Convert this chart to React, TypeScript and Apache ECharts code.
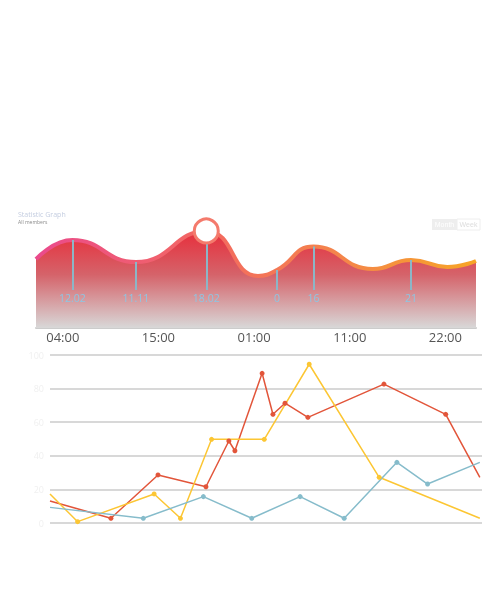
import React, { useEffect, useRef } from "react";
import * as echarts from "echarts";

// Upper area chart
const TIME_LABELS = ["04:00", "15:00", "01:00", "11:00", "22:00"];
const TIME_TICKS = [0, 10, 20, 30, 40];
const WAVE_X = [-2.8, 1, 7.65, 15, 20.4, 22.4, 26.2, 32.4, 36.4, 40.2, 43.2];
const WAVE_Y = [62.7, 80, 60, 88.2, 47.3, 52.7, 74.1, 53.6, 61.8, 55.5, 60.9];
const MARK_INDEX = [1, 2, 3, 5, 6, 8];
const MARK_LABELS = ["12.02", "11.11", "18.02", "0", "16", "21"];
const MARK_BOTTOM = 34.5;
const PEAK_INDEX = 3;

// Lower line chart
const RED_X = [0, 14.1, 25.0, 36.1, 41.4, 42.8, 49.1, 51.6, 54.4, 59.7, 77.3, 91.6, 99.5];
const RED_Y = [13.1, 2.8, 28.6, 21.6, 48.8, 43.0, 89.1, 64.7, 71.3, 62.9, 82.7, 64.7, 27.2];
const YELLOW_X = [0, 6.4, 24.1, 30.2, 37.4, 49.6, 60.0, 76.2, 99.5];
const YELLOW_Y = [17.3, 0.8, 17.3, 2.8, 49.8, 49.8, 94.5, 27.2, 2.8];
const BLUE_X = [0, 21.6, 35.5, 46.7, 57.9, 68.1, 80.3, 87.4, 99.5];
const BLUE_Y = [9.3, 2.8, 15.7, 2.8, 15.7, 2.8, 36.1, 23.2, 36.1];

function pts(xs: number[], ys: number[]) {
  return xs.map((x, i) => {
    const item: any = { value: [x, ys[i]] };
    if (i === 0 || i === xs.length - 1) item.symbol = "none";
    return item;
  });
}

export default function App() {
  const ref = useRef<HTMLDivElement>(null);
  useEffect(() => {
    if (!ref.current) return;
    const chart = echarts.init(ref.current, undefined, { renderer: "svg" });
    const lineSeries = (name: string, xs: number[], ys: number[], color: string) => ({
      name,
      type: "line",
      xAxisIndex: 1,
      yAxisIndex: 1,
      data: pts(xs, ys),
      symbol: "circle",
      symbolSize: 5,
      lineStyle: { color, width: 1.5 },
      itemStyle: { color },
      z: 3,
    });
    chart.setOption({
      animation: false,
      textStyle: { fontFamily: "Open Sans" },
      title: {
        text: "Statistic Graph",
        subtext: "All members",
        left: 13,
        top: 206,
        itemGap: 1,
        textStyle: { fontSize: 7, fontWeight: "normal", color: "#c4cde0" },
        subtextStyle: { fontSize: 5, color: "#8a8a8a" },
      },
      graphic: [
        { type: "rect", shape: { x: 432, y: 219, width: 25, height: 11 }, style: { fill: "#eeeeee" } },
        { type: "text", x: 444.5, y: 224.5, style: { text: "Month", fill: "#ffffff", fontSize: 7, align: "center", verticalAlign: "middle" } },
        { type: "rect", shape: { x: 457, y: 219, width: 23, height: 11 }, style: { fill: "#ffffff", stroke: "#eeeeee", lineWidth: 1 } },
        { type: "text", x: 468.5, y: 224.5, style: { text: "Week", fill: "#dddddd", fontSize: 7, align: "center", verticalAlign: "middle" } },
      ],
      grid: [
        { left: 36, right: 24, top: 218, height: 110 },
        { left: 50, right: 18, top: 355, height: 168 },
      ],
      xAxis: [
        {
          type: "value",
          gridIndex: 0,
          min: -2.8,
          max: 43.2,
          splitLine: { show: false },
          axisTick: { show: false },
          axisLine: { show: true, lineStyle: { color: "#cccccc", width: 2 } },
          axisLabel: {
            customValues: TIME_TICKS,
            formatter: (v: number) => TIME_LABELS[TIME_TICKS.indexOf(Math.round(v))] ?? "",
            color: "#555555",
            fontSize: 13,
            margin: 2,
          },
        },
        {
          type: "value",
          gridIndex: 1,
          min: 0,
          max: 100,
          show: false,
        },
      ],
      yAxis: [
        { type: "value", gridIndex: 0, min: 0, max: 100, show: false },
        {
          type: "value",
          gridIndex: 1,
          min: 0,
          max: 100,
          interval: 20,
          axisLine: { show: false },
          axisTick: { show: false },
          splitLine: { lineStyle: { color: "#cbcbcb", width: 1.5 } },
          axisLabel: { color: "#f0f0f0", fontSize: 9, margin: 6 },
        },
      ],
      series: [
        {
          type: "line",
          xAxisIndex: 0,
          yAxisIndex: 0,
          smooth: 0.5,
          showSymbol: false,
          symbol: "none",
          data: WAVE_X.map((x, i) => [x, WAVE_Y[i]]),
          lineStyle: {
            width: 4,
            color: new echarts.graphic.LinearGradient(0, 0, 1, 0, [
              { offset: 0, color: "#ea4a8c" },
              { offset: 0.4, color: "#f36a60" },
              { offset: 0.7, color: "#f4864a" },
              { offset: 1, color: "#f7a526" },
            ]),
          },
          areaStyle: {
            opacity: 1,
            color: new echarts.graphic.LinearGradient(0, 0, 0, 1, [
              { offset: 0, color: "#e72e3b" },
              { offset: 0.45, color: "#d5636a" },
              { offset: 1, color: "#d8d8d8" },
            ]),
          },
          markLine: {
            silent: true,
            symbol: "none",
            lineStyle: { color: "#8cb6c7", width: 2, type: "solid" },
            label: { position: "end", formatter: "{b}", color: "#8ec6e3", fontSize: 10.5, distance: 2 },
            data: MARK_INDEX.map((idx, k) => [
              { name: MARK_LABELS[k], coord: [WAVE_X[idx], WAVE_Y[idx]] },
              { coord: [WAVE_X[idx], MARK_BOTTOM] },
            ]),
          },
          markPoint: {
            silent: true,
            symbol: "circle",
            symbolSize: 24,
            label: { show: false },
            itemStyle: { color: "#ffffff", borderColor: "#f47a6c", borderWidth: 3 },
            data: [{ coord: [WAVE_X[PEAK_INDEX], WAVE_Y[PEAK_INDEX]] }],
          },
          z: 2,
        },
        lineSeries("A", RED_X, RED_Y, "#e2553a"),
        lineSeries("B", YELLOW_X, YELLOW_Y, "#fcc633"),
        lineSeries("C", BLUE_X, BLUE_Y, "#86bccb"),
      ],
    });
    return () => chart.dispose();
  }, []);
  return <div ref={ref} style={{ position: "fixed", left: 0, top: 0, width: 500, height: 598 }} />;
}
